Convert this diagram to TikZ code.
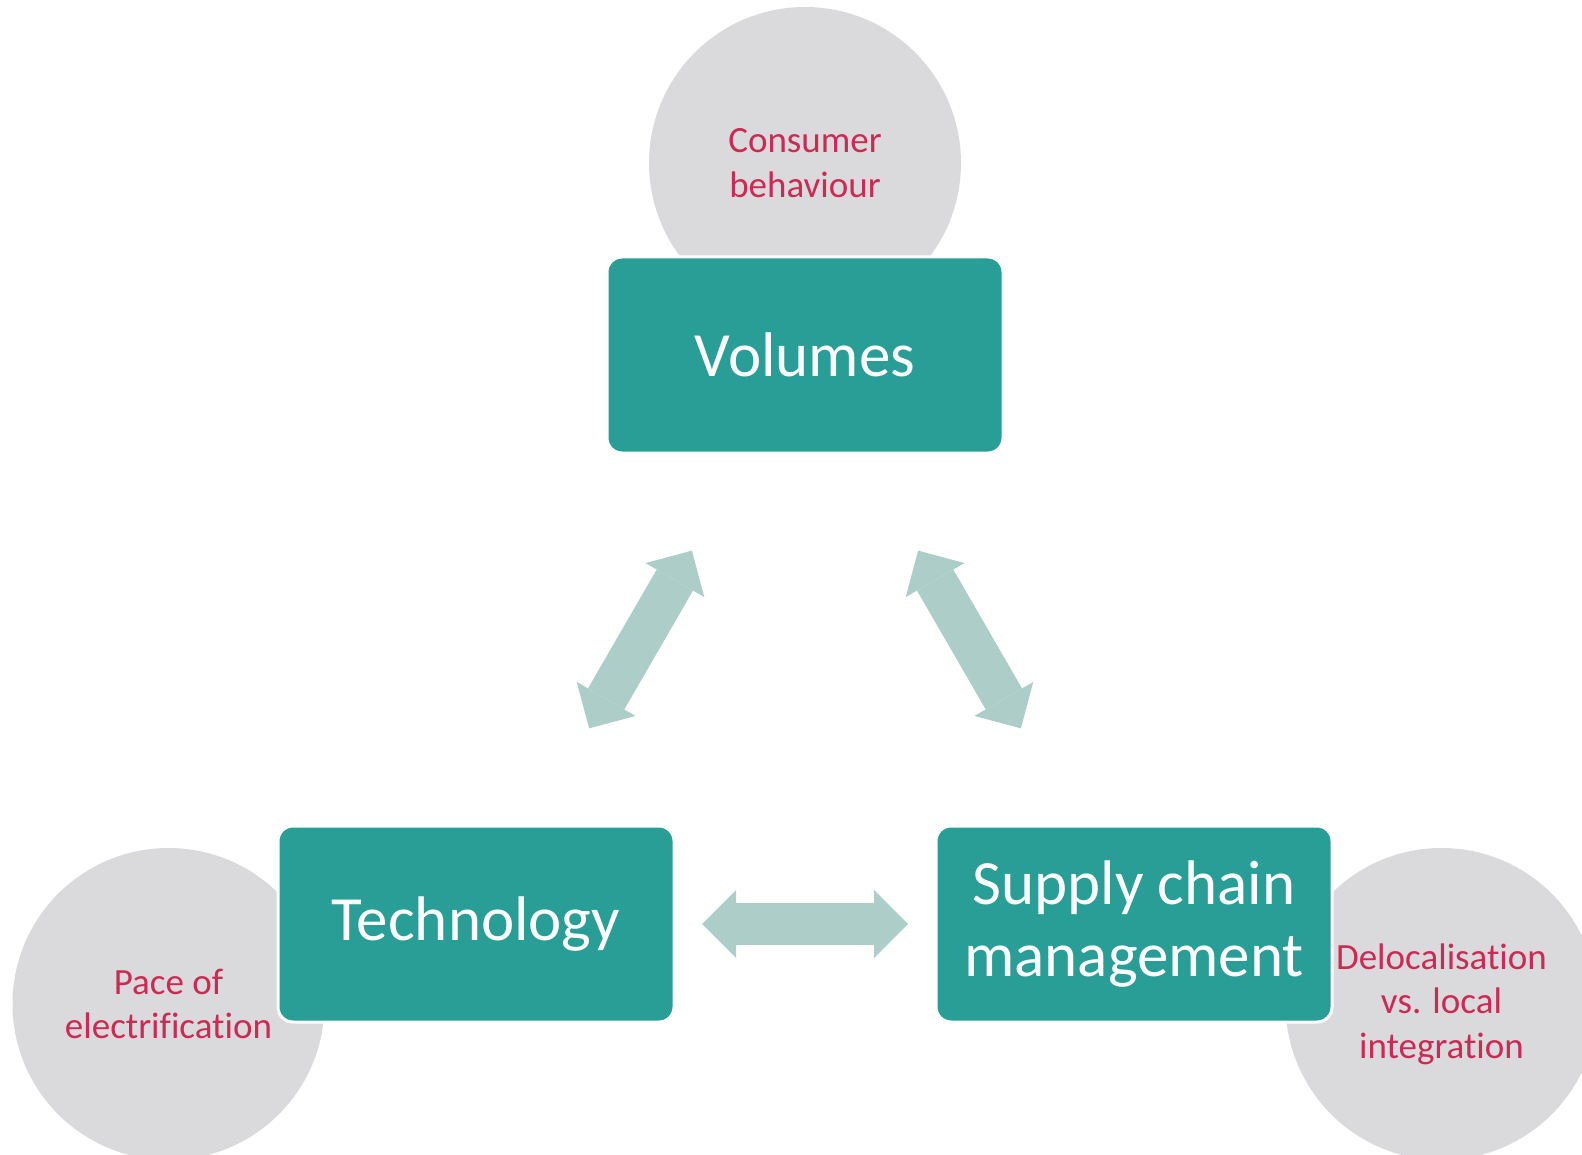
\documentclass[tikz,border=0pt]{standalone}
\usepackage{fontspec}
\setmainfont{Carlito}[Ligatures=CommonOff]
\usepackage{tikz}
\usetikzlibrary {arrows.meta}
\usetikzlibrary{calc}

\definecolor{boxteal}{RGB}{40,158,151}
\definecolor{circlegrey}{RGB}{218,218,221}
\definecolor{driverred}{RGB}{204,41,84}
\definecolor{linkgreen}{RGB}{173,205,201}

\tikzset{
	driver/.style={circle, fill=circlegrey, minimum size=312pt, inner sep=0pt, align=center, text=driverred, font=\fontsize{37}{44.5}\selectfont},
	factor/.style={rectangle, rounded corners=15pt, fill=boxteal, draw=white, line width=3pt, minimum width=396pt, minimum height=196pt, inner sep=0pt, outer sep=0pt, align=center, text=white, font=\fontsize{63}{72}\selectfont},
	link/.style={draw=linkgreen, line width=42pt, shorten <=226pt, shorten >=226pt, {Triangle[length=34pt, width=68pt, line width=0pt]}-{Triangle[length=34pt, width=68pt, line width=0pt]}}
}

\begin{document}
\begin{tikzpicture}[x=1pt, y=-1pt]
	\useasboundingbox (0, 0) rectangle (1582, 1155);

	\node[driver] (consumer) at (805, 163) {Consumer\\behaviour};
	\node[driver] (pace) at (168.5, 1004) {Pace of\\electrification};
	\node[driver] (deloc) at (1441.5, 1004) {Delocalisation\\vs. local\\integration};

	\node[factor] (vol) at (805, 355) {Volumes};
	\node[factor] (tech) at (476, 924) {Technology};
	\node[factor] (supply) at (1134, 924) {Supply chain\\management};

	\draw[link] (vol.center) -- (tech.center);
	\draw[link] (vol.center) -- (supply.center);
	\draw[link] (tech.center) -- (supply.center);
\end{tikzpicture}
\end{document}
